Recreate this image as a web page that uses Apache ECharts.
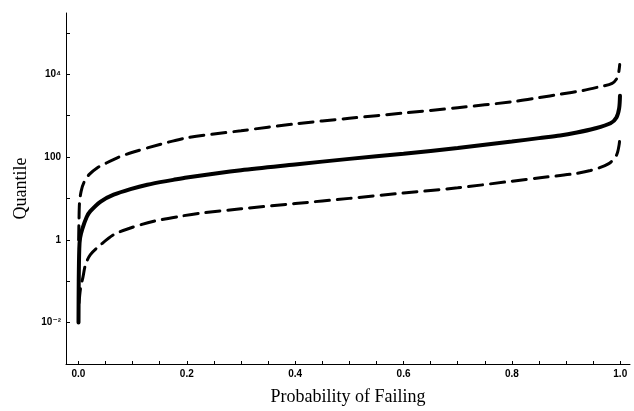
<!DOCTYPE html>
<html>
<head>
<meta charset="utf-8">
<script src="https://cdn.jsdelivr.net/npm/echarts@6/dist/echarts.min.js"></script>
<style>html,body{margin:0;padding:0;background:#fff}#c{width:634px;height:411px}</style>
</head>
<body>
<div id="c"></div>
<script>
// Probability of failing (x) and quantile (y) for the three curves
const medianX = [0.0001, 0.0005, 0.0015, 0.003, 0.007, 0.015, 0.022, 0.041, 0.065, 0.096, 0.127, 0.175, 0.2, 0.3, 0.4, 0.5, 0.6, 0.7, 0.8, 0.85, 0.889, 0.92, 0.951, 0.982, 0.993, 0.998, 0.9995];
const medianY = [0.01, 0.1, 0.6, 1.1, 1.8, 3.5, 4.9, 8.4, 12.3, 16.8, 21.4, 28, 32, 48, 66, 90, 120, 165, 235, 285, 330, 390, 480, 650, 900, 1500, 3000];
const upperX = [0.0003, 0.001, 0.002, 0.005, 0.01, 0.02, 0.035, 0.05, 0.075, 0.1, 0.15, 0.2, 0.3, 0.4, 0.5, 0.6, 0.7, 0.8, 0.85, 0.89, 0.93, 0.96, 0.985, 0.995, 0.999];
const upperY = [1, 3, 8, 15, 24, 38, 55, 70, 100, 130, 200, 290, 430, 630, 860, 1150, 1550, 2150, 2700, 3300, 4000, 4900, 6000, 8500, 17000];
const lowerX = [0.001, 0.004, 0.008, 0.013, 0.022, 0.041, 0.065, 0.096, 0.139, 0.188, 0.225, 0.3, 0.4, 0.5, 0.6, 0.7, 0.8, 0.852, 0.913, 0.945, 0.978, 0.993, 0.998, 0.9995];
const lowerY = [0.03, 0.07, 0.12, 0.25, 0.44, 0.76, 1.33, 1.93, 2.8, 3.7, 4.4, 5.6, 7.5, 10, 13.5, 18, 26, 31.5, 39, 47, 68, 110, 200, 340];

const xTickValues = [0, 0.05, 0.1, 0.15, 0.2, 0.25, 0.3, 0.35, 0.4, 0.45, 0.5, 0.55, 0.6, 0.65, 0.7, 0.75, 0.8, 0.85, 0.9, 0.95, 1.0];
const xLabelValues = [0, 0.2, 0.4, 0.6, 0.8, 1.0];
const xLabelTexts = ['0.0', '0.2', '0.4', '0.6', '0.8', '1.0'];
const yTickValues = [0.01, 1, 100, 10000];
const yTickLabels = ['10\u207B\u00B2', '1', '100', '10\u2074'];

const pairs = (xs, ys) => xs.map((x, i) => [x, ys[i]]);

const chart = echarts.init(document.getElementById('c'), null, {renderer: 'canvas'});
chart.setOption({
  animation: false,
  backgroundColor: '#fff',
  grid: {left: 66, right: 4, top: 13, bottom: 45, containLabel: false},
  xAxis: {
    type: 'value', min: -0.023, max: 1.018,
    name: 'Probability of Failing', nameLocation: 'middle', nameGap: 24,
    nameTextStyle: {fontFamily: 'Liberation Serif', fontSize: 18, color: '#000'},
    axisLine: {onZero: false, lineStyle: {color: '#000', width: 1}},
    axisTick: {inside: true, length: 3, customValues: xTickValues, lineStyle: {color: '#000'}},
    axisLabel: {
      customValues: xLabelValues, margin: 5,
      fontFamily: 'Liberation Sans', fontSize: 10, fontWeight: 'bold', color: '#000',
      formatter: v => { const i = xLabelValues.findIndex(t => Math.abs(t - v) < 1e-9); return i >= 0 ? xLabelTexts[i] : ''; }
    },
    splitLine: {show: false}
  },
  yAxis: {
    type: 'log', logBase: 10, min: 0.001, max: 300000,
    name: 'Quantile', nameLocation: 'middle', nameGap: 36, nameRotate: 90,
    nameTextStyle: {fontFamily: 'Liberation Serif', fontSize: 18, color: '#000'},
    axisLine: {onZero: false, lineStyle: {color: '#000', width: 1}},
    axisTick: {inside: true, length: 4, lineStyle: {color: '#000'}},
    axisLabel: {
      margin: 5, showMinLabel: false, showMaxLabel: false,
      fontFamily: 'Liberation Sans, DejaVu Sans', fontSize: 10, fontWeight: 'bold', color: '#000',
      formatter: v => {
        const i = yTickValues.findIndex(t => Math.abs(Math.log10(t) - Math.log10(v)) < 1e-6);
        return i >= 0 ? yTickLabels[i] : '';
      }
    },
    splitLine: {show: false}
  },
  series: [
    {type: 'line', data: pairs(medianX, medianY), smooth: 0.3, showSymbol: false,
     lineStyle: {color: '#000', width: 4, type: 'solid', cap: 'round'}},
    {type: 'line', data: pairs(upperX, upperY), smooth: 0.3, showSymbol: false,
     lineStyle: {color: '#000', width: 3, type: [14, 8], cap: 'round'}},
    {type: 'line', data: pairs(lowerX, lowerY), smooth: 0.3, showSymbol: false,
     lineStyle: {color: '#000', width: 3, type: [14, 8], cap: 'round'}}
  ]
});
</script>
</body>
</html>
